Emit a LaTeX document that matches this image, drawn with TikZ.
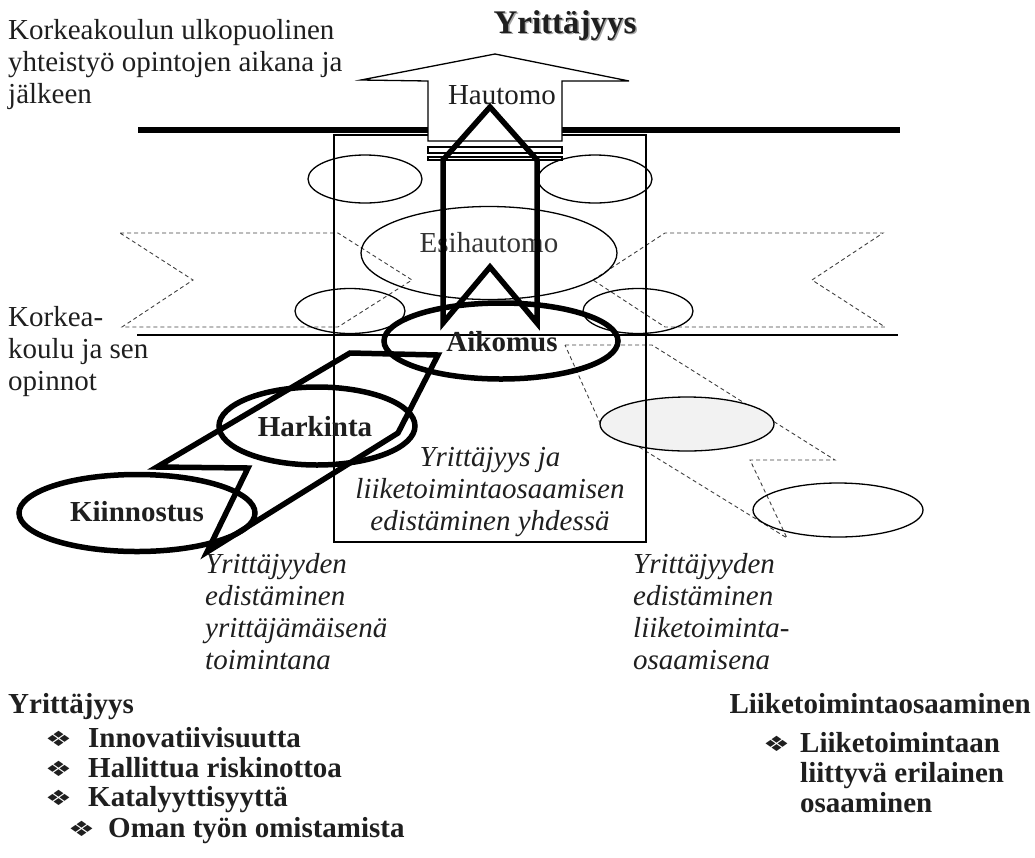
\documentclass[tikz,border=0pt]{standalone}
\usepackage{fontspec}
\setmainfont{Liberation Serif}
\newfontfamily\symfont{DejaVu Sans}
\usetikzlibrary{shapes.geometric}

% four-diamond bullet, a little wider than tall
\newcommand{\bul}[1]{\makebox[#1][l]{\raisebox{0.5pt}{\scalebox{1.5}[1.05]{\symfont\fontsize{20}{20}\selectfont ❖}}}}

\tikzset{
  thinline/.style={line width=1.3pt, black},
  heavyline/.style={line width=5.5pt, black, line join=miter, miter limit=20},
  dashline/.style={line width=0.9pt, black!75, dash pattern=on 4pt off 3pt},
  oval/.style={ellipse, draw, line width=1.3pt, inner sep=0pt},
  heavyoval/.style={ellipse, draw, line width=5.5pt, inner sep=0pt},
  plain/.style={font=\fontsize{29}{32}\selectfont, text=black!88, inner sep=0pt},
  slanted/.style={font=\itshape\fontsize{29}{32}\selectfont, text=black!88, inner sep=0pt},
  strong/.style={font=\bfseries\fontsize{29}{30}\selectfont, text=black!88, inner sep=0pt},
}

\begin{document}
\begin{tikzpicture}[x=1pt, y=-1pt]
\useasboundingbox (0,0) rectangle (1035,857);

% dashed banners on both sides of the middle column
\draw[dashline] (120,233) -- (338,233) -- (412,280) -- (338,327) -- (122,327) -- (193,280) -- cycle;
\draw[dashline] (593,280) -- (665,233) -- (883,233) -- (812,280) -- (885,327) -- (665,327) -- cycle;
\draw[dashline] (565,345) -- (652,345) -- (835,460) -- (750,460) -- (787,538) -- (600,423) -- cycle;

% small ovals
\node[oval, minimum width=114pt, minimum height=48pt] (ulv) at (365,179) {};
\node[oval, minimum width=114pt, minimum height=48pt] (ulo) at (595,179) {};
\node[oval, minimum width=110pt, minimum height=45pt] (alv) at (350,311) {};
\node[oval, minimum width=110pt, minimum height=45pt] (alo) at (638,311) {};
\node[oval, fill=black!5, minimum width=174pt, minimum height=54pt] (lt1) at (687,424) {};
\node[oval, minimum width=170pt, minimum height=54pt] (lt2) at (838,510) {};
\node[oval, minimum width=256pt, minimum height=93pt] (esi) at (489,253) {};
\node[plain, text=black!80] (esit) at (489,243) {Esihautomo};

% middle column box
\node[draw, thinline, minimum width=312pt, minimum height=407pt, inner sep=0pt] (box) at (490,338.5) {};

% level lines
\coordinate (ylaA) at (138,130);
\coordinate (ylaB) at (900,130);
\coordinate (alaA) at (137,335);
\coordinate (alaB) at (898,335);
\draw[line width=6pt] (ylaA) -- (ylaB);
\draw[thinline] (alaA) -- (alaB);

% hollow arrow leaving upwards
\draw[line width=1.3pt, fill=white] (495,54) -- (629,81) -- (562,81) -- (562,141) -- (428,141) -- (428,81) -- (361,80) -- cycle;
\draw[line width=1.3pt] (428,147) rectangle (562,153);
\draw[line width=1.3pt] (428,157) rectangle (562,160);
\node[plain] (haut) at (502,95) {Hautomo};

% heavy paths of progression
\draw[heavyline] (350,353) -- (438,355) -- (398,433) -- (207,552) -- (248,468) -- (157,467) -- cycle;
\draw[heavyline] (490,107) -- (537,160) -- (537,323) -- (490,267) -- (443,323) -- (443,160) -- cycle;

\node[heavyoval, minimum width=234pt, minimum height=76pt] (aik) at (501,341) {};
\node[heavyoval, minimum width=196pt, minimum height=78pt] (hark) at (317,426) {};
\node[heavyoval, minimum width=236pt, minimum height=77pt] (kiin) at (137,513) {};
\node[strong] (aikt) at (502,342) {Aikomus};
\node[strong] (harkt) at (315,427) {Harkinta};
\node[strong] (kiint) at (137,512) {Kiinnostus};

% title with a soft shadow
\node[font=\bfseries\fontsize{33}{36}\selectfont, text=black!35, anchor=base] (otsv) at (566.5,34.5) {Yrittäjyys};
\node[font=\bfseries\fontsize{33}{36}\selectfont, text=black!88, anchor=base] (otsikko) at (565,33) {Yrittäjyys};

% side labels (anchored at the baseline of their last line)
\node[plain, anchor=base west, align=left] (ulko) at (8,103) {Korkeakoulun ulkopuolinen\\yhteistyö opintojen aikana ja\\jälkeen};
\node[plain, anchor=base west, align=left] (kk) at (8,390) {Korkea-\\koulu ja sen\\opinnot};

% italic captions
\node[slanted, anchor=base, align=center] (yhd) at (490,530) {Yrittäjyys ja\\liiketoimintaosaamisen\\edistäminen yhdessä};
\node[slanted, anchor=base west, align=left] (ytm) at (205,669) {Yrittäjyyden\\edistäminen\\yrittäjämäisenä\\toimintana};
\node[slanted, anchor=base west, align=left] (lto) at (633,669) {Yrittäjyyden\\edistäminen\\liiketoiminta-\\osaamisena};

% lists at the bottom
\node[strong, anchor=base west] (l1) at (8,713) {Yrittäjyys};
\node[strong, anchor=base west] (l2) at (45,747) {\bul{43pt}Innovatiivisuutta};
\node[strong, anchor=base west] (l3) at (45,777) {\bul{43pt}Hallittua riskinottoa};
\node[strong, anchor=base west] (l4) at (45,806) {\bul{43pt}Katalyyttisyyttä};
\node[strong, anchor=base west] (l5) at (68,837) {\bul{40pt}Oman työn omistamista};

\node[strong, anchor=base east] (r1) at (1031,713) {Liiketoimintaosaaminen};
\node[strong, anchor=base west] (r2) at (763,752) {\bul{37pt}Liiketoimintaan};
\node[strong, anchor=base west] (r3) at (800,782) {liittyvä erilainen};
\node[strong, anchor=base west] (r4) at (800,812) {osaaminen};
\end{tikzpicture}
\end{document}
